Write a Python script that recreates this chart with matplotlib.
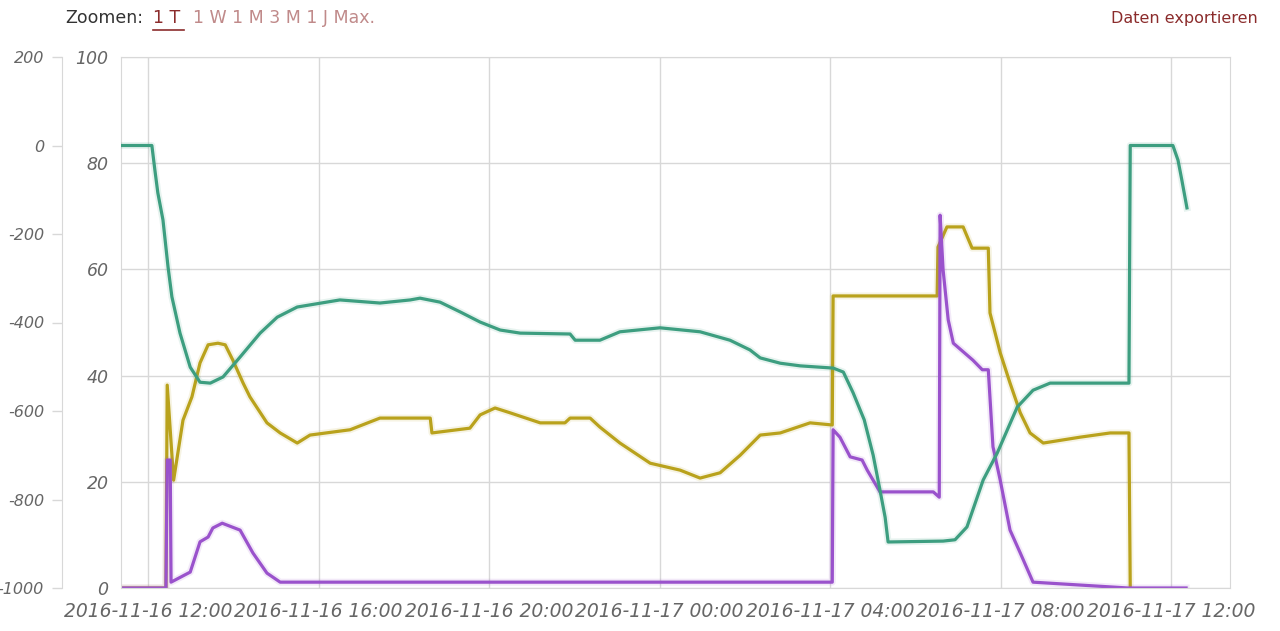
import numpy as np
import pandas as pd
import matplotlib
matplotlib.use("Agg")
import matplotlib.pyplot as plt
import matplotlib.dates as mdates
from matplotlib.lines import Line2D

plt.rcParams["axes.unicode_minus"] = False

# hours since 2016-11-16 00:00
green_t = [11.37, 12.09, 12.16, 12.23, 12.35, 12.47, 12.56, 12.75, 12.99, 13.22,
           13.46, 13.76, 14.16, 14.63, 15.03, 15.50, 16.50, 17.44, 18.15, 18.38,
           18.85, 19.32, 19.79, 20.26, 20.73, 21.90, 22.02, 22.60, 23.07, 24.01,
           24.95, 25.65, 26.12, 26.36, 26.83, 27.30, 28.07, 28.31, 28.54, 28.80,
           29.01, 29.17, 29.29, 29.36, 30.65, 30.93, 31.21, 31.59, 31.92, 32.39,
           32.76, 33.16, 35.01, 35.04, 36.04, 36.16, 36.25, 36.37]
green_v = [0, 0, -55, -107, -168, -275, -342, -424, -501, -535,
           -537, -523, -478, -424, -388, -365, -349, -356, -349, -345,
           -354, -376, -399, -417, -424, -426, -440, -440, -421, -412,
           -421, -440, -462, -480, -492, -498, -503, -512, -559, -620,
           -700, -779, -840, -896, -894, -891, -862, -756, -695, -591,
           -553, -537, -537, 0, 0, -33, -78, -141]

yellow_t = [11.37, 12.42, 12.45, 12.60, 12.82, 13.03, 13.22, 13.41, 13.64, 13.81,
            13.99, 14.23, 14.39, 14.79, 15.10, 15.50, 15.80, 16.74, 17.44, 18.62,
            18.66, 19.55, 19.79, 20.14, 20.49, 21.20, 21.78, 21.90, 22.37, 22.60,
            23.07, 23.78, 24.48, 24.95, 25.42, 25.89, 26.36, 26.83, 27.53, 28.05,
            28.07, 30.51, 30.53, 30.74, 31.12, 31.33, 31.71, 31.75, 31.99, 32.22,
            32.46, 32.69, 33.00, 33.16, 33.86, 34.57, 35.01, 35.04]
yellow_v = [0, 0, 38.2, 20.3, 31.6, 36.0, 42.4, 45.8, 46.1, 45.8,
            42.9, 38.6, 36.0, 31.1, 29.2, 27.3, 28.8, 29.8, 32.0, 32.0,
            29.2, 30.1, 32.6, 33.9, 33.0, 31.1, 31.1, 32.0, 32.0, 30.3,
            27.3, 23.5, 22.2, 20.7, 21.7, 25.0, 28.8, 29.2, 31.1, 30.7,
            55.0, 55.0, 64.2, 68.0, 68.0, 64.0, 64.0, 51.8, 44.3, 38.6,
            33.0, 29.2, 27.3, 27.5, 28.4, 29.2, 29.2, 0]

purple_t = [11.37, 12.42, 12.45, 12.52, 12.54, 12.99, 13.22, 13.41, 13.52, 13.74,
            14.16, 14.46, 14.79, 15.10, 28.05, 28.07, 28.23, 28.47, 28.75, 28.87,
            29.17, 30.42, 30.56, 30.58, 30.65, 30.77, 30.89, 31.35, 31.57, 31.71,
            31.82, 31.99, 32.22, 32.46, 32.76, 34.99, 36.35]
purple_v = [0, 0, 24.1, 24.1, 1.1, 3.0, 8.7, 9.6, 11.3, 12.2,
            10.9, 6.6, 2.8, 1.1, 1.1, 29.8, 28.4, 24.7, 24.1, 22.2,
            18.1, 18.1, 17.1, 70.2, 59.9, 50.5, 46.1, 42.9, 41.1, 41.1,
            26.6, 20.3, 10.9, 6.6, 1.1, 0, 0]

start = pd.Timestamp("2016-11-16 00:00")


def to_dates(hours):
    return [start + pd.Timedelta(hours=h) for h in hours]


GREEN = "#3d9e80"
YELLOW = "#b9a21c"
PURPLE = "#9a52cc"
GRID = "#d8d8d8"
LABEL = "#666666"

fig = plt.figure(figsize=(12.8, 6.31), dpi=100)
ax = fig.add_axes([121 / 1280, 43 / 631, 1109 / 1280, 531 / 631])
ax2 = ax.twinx()

for t, v, c, a in [(yellow_t, yellow_v, YELLOW, ax), (purple_t, purple_v, PURPLE, ax),
                   (green_t, green_v, GREEN, ax2)]:
    d = to_dates(t)
    a.plot(d, v, color=c, lw=5, alpha=0.12, solid_joinstyle="round")
    a.plot(d, v, color=c, lw=2.3, solid_joinstyle="round")

ax.set_xlim(start + pd.Timedelta(hours=11.366), start + pd.Timedelta(hours=37.38))
ax.set_ylim(0, 100)
ax.set_yticks([0, 20, 40, 60, 80, 100])
ax2.set_ylim(-1000, 200)
ax2.set_yticks(np.arange(-1000, 201, 200))

ax.xaxis.set_major_locator(mdates.HourLocator(byhour=[0, 4, 8, 12, 16, 20]))
ax.xaxis.set_major_formatter(mdates.DateFormatter("%Y-%m-%d %H:%M"))

ax.grid(True, color=GRID, lw=1)
ax.set_axisbelow(True)
for s in ax.spines.values():
    s.set_color(GRID)

ax.tick_params(axis="x", length=0, pad=10, labelsize=13.5, labelcolor=LABEL)
ax.tick_params(axis="y", length=0, pad=9, labelsize=12.5, labelcolor=LABEL)
for lbl in ax.get_xticklabels() + ax.get_yticklabels():
    lbl.set_fontstyle("italic")

ax2.yaxis.set_ticks_position("left")
ax2.yaxis.set_label_position("left")
ax2.spines["left"].set_position(("axes", -59 / 1109))
ax2.spines["left"].set_color(GRID)
for k in ["right", "top", "bottom"]:
    ax2.spines[k].set_visible(False)
ax2.tick_params(axis="y", length=7, width=1, color=GRID, pad=6,
                labelsize=11.5, labelcolor=LABEL)
for lbl in ax2.get_yticklabels():
    lbl.set_fontstyle("italic")

# header
y_head = 1 - 18 / 631
fig.text(65 / 1280, y_head, "Zoomen:", fontsize=12.5, color="#333333", va="center")
fig.text(153 / 1280, y_head, "1 T", fontsize=12.5, color="#8b2c2c", va="center")
fig.add_artist(Line2D([153 / 1280, 184 / 1280], [1 - 30 / 631] * 2,
                      color="#8b2c2c", lw=1.2))
fig.text(193 / 1280, y_head, "1 W 1 M 3 M 1 J Max.", fontsize=12.5,
         color="#c08a8a", va="center")
fig.text(1258 / 1280, y_head, "Daten exportieren", fontsize=11.5,
         color="#8b2c2c", va="center", ha="right")

fig.savefig("out.png", dpi=100)
